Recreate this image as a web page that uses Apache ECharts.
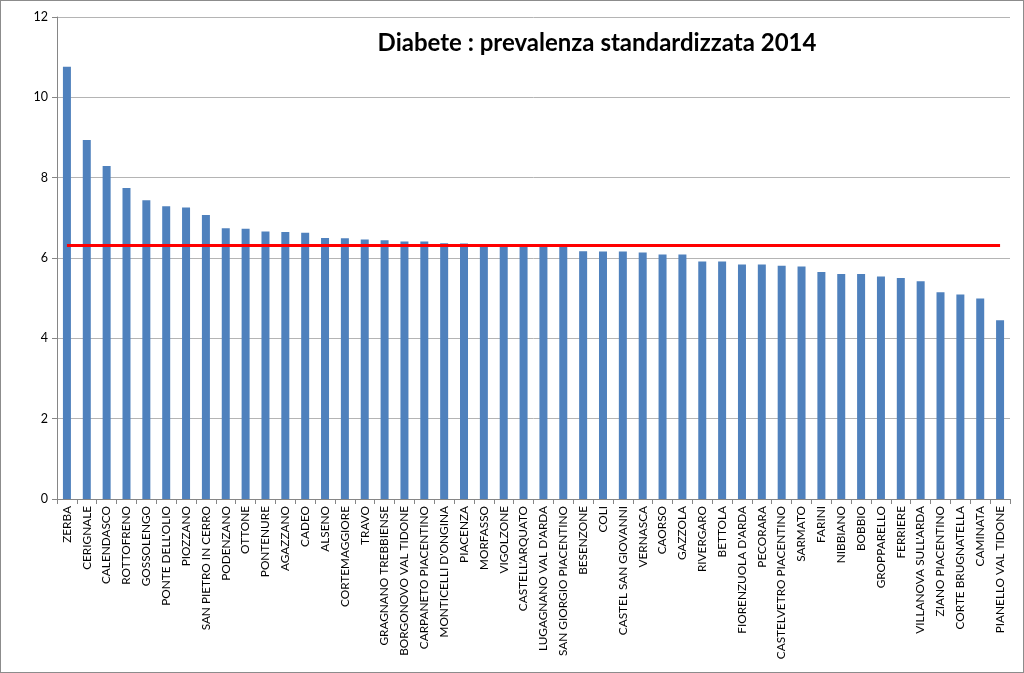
<!DOCTYPE html>
<html>
<head>
<meta charset="utf-8">
<script src="https://cdn.jsdelivr.net/npm/echarts@6/dist/echarts.min.js"></script>
<style>
html,body{margin:0;padding:0;background:#fff;}
#chart{width:1024px;height:673px;box-sizing:border-box;border:1px solid #8c8c8c;}
</style>
</head>
<body>
<div id="chart"></div>
<script>
const titleText = "Diabete : prevalenza standardizzata 2014";
const categories = ["ZERBA","CERIGNALE","CALENDASCO","ROTTOFRENO","GOSSOLENGO","PONTE DELL'OLIO","PIOZZANO","SAN PIETRO IN CERRO","PODENZANO","OTTONE","PONTENURE","AGAZZANO","CADEO","ALSENO","CORTEMAGGIORE","TRAVO","GRAGNANO TREBBIENSE","BORGONOVO VAL TIDONE","CARPANETO PIACENTINO","MONTICELLI D'ONGINA","PIACENZA","MORFASSO","VIGOLZONE","CASTELL'ARQUATO","LUGAGNANO VAL D'ARDA","SAN GIORGIO PIACENTINO","BESENZONE","COLI","CASTEL SAN GIOVANNI","VERNASCA","CAORSO","GAZZOLA","RIVERGARO","BETTOLA","FIORENZUOLA D'ARDA","PECORARA","CASTELVETRO PIACENTINO","SARMATO","FARINI","NIBBIANO","BOBBIO","GROPPARELLO","FERRIERE","VILLANOVA SULL'ARDA","ZIANO PIACENTINO","CORTE BRUGNATELLA","CAMINATA","PIANELLO VAL TIDONE"];
const prevalence = [10.76,8.94,8.29,7.74,7.44,7.29,7.26,7.07,6.74,6.73,6.66,6.65,6.63,6.50,6.49,6.46,6.44,6.41,6.41,6.37,6.36,6.31,6.30,6.30,6.29,6.29,6.17,6.16,6.16,6.14,6.09,6.09,5.91,5.91,5.84,5.84,5.81,5.79,5.65,5.60,5.60,5.54,5.50,5.42,5.15,5.09,4.99,4.45];
const referenceValue = 6.31;
const yTicks = {min: 0, max: 12, interval: 2};

const referenceLine = categories.map(() => referenceValue);

const chart = echarts.init(document.getElementById('chart'));
chart.setOption({
  animation: false,
  backgroundColor: '#fff',
  title: {
    text: titleText,
    left: 591, top: 25, textAlign: 'center',
    textStyle: {fontFamily: 'Lato', fontWeight: 'bold', fontSize: 24, color: '#000'}
  },
  grid: {left: 56, right: 13, top: 16, bottom: 173, containLabel: false},
  xAxis: {
    type: 'category',
    data: categories,
    boundaryGap: true,
    axisLine: {lineStyle: {color: '#868686', width: 1}},
    axisTick: {show: true, alignWithLabel: false, length: 5, lineStyle: {color: '#868686'}},
    axisLabel: {interval: 0, rotate: 90, margin: 7, fontFamily: 'Lato', fontSize: 11.8, color: '#000'}
  },
  yAxis: {
    type: 'value',
    min: yTicks.min, max: yTicks.max, interval: yTicks.interval,
    axisLine: {show: true, lineStyle: {color: '#868686'}},
    axisTick: {show: true, length: 5, lineStyle: {color: '#868686'}},
    axisLabel: {fontFamily: 'Lato', fontSize: 12.5, color: '#000', margin: 9},
    splitLine: {lineStyle: {color: '#b4b4b4', width: 1}}
  },
  series: [
    {
      type: 'bar',
      data: prevalence,
      barWidth: 8,
      itemStyle: {color: '#4f81bd'}
    },
    {
      type: 'line',
      data: referenceLine,
      symbol: 'none',
      lineStyle: {color: '#ff0000', width: 3},
      z: 5
    }
  ]
});
</script>
</body>
</html>
